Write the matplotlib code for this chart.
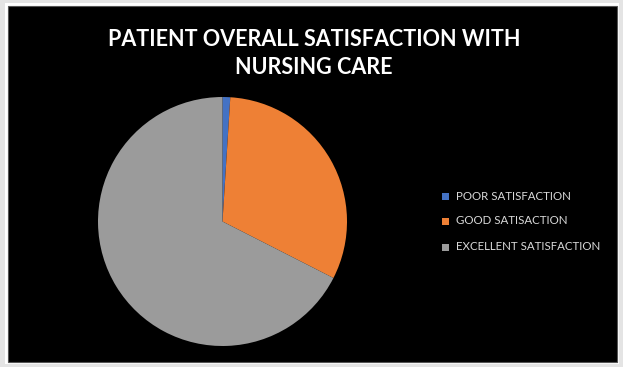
import matplotlib.pyplot as plt
from matplotlib.patches import Rectangle

# data
labels = ['POOR SATISFACTION', 'GOOD SATISACTION', 'EXCELLENT SATISFACTION']
values = [1, 31.5, 67.5]
colors = ['#4472C4', '#EE8035', '#9B9B9B']

W, H = 623, 367
fig = plt.figure(figsize=(W / 100, H / 100), dpi=100)
fig.patch.set_facecolor('#e4e4e4')

# white frame + black chart area
fig.patches.append(Rectangle((5 / W, 3 / H), 614 / W, 361 / H, transform=fig.transFigure,
                             facecolor='white', edgecolor='none', zorder=0))
fig.patches.append(Rectangle((8 / W, 5 / H), 609 / W, 356 / H, transform=fig.transFigure,
                             facecolor='black', edgecolor='#555555', linewidth=0.8, zorder=1))

# pie axes, centre (222.5, 221.5) px, radius 124.5 px
cx, cy, r = 222.5, 221.5, 124.5
ax = fig.add_axes([(cx - r) / W, (H - cy - r) / H, 2 * r / W, 2 * r / H])
ax.set_zorder(5)
ax.set_facecolor('none')
wedges, _ = ax.pie(values, colors=colors, startangle=90, counterclock=False,
                   radius=1, wedgeprops=dict(linewidth=0))
ax.set_xlim(-1, 1)
ax.set_ylim(-1, 1)
ax.axis('off')

fig.text(314 / W, 1 - 39 / H, 'PATIENT OVERALL SATISFACTION WITH', ha='center', va='center',
         color='white', fontsize=15.5, fontweight='bold', family='Lato', zorder=6)
fig.text(314 / W, 1 - 67 / H, 'NURSING CARE', ha='center', va='center',
         color='white', fontsize=15.5, fontweight='bold', family='Lato', zorder=6)

# legend
ys = [196, 221, 247]
for lab, col, y in zip(labels, colors, ys):
    fig.patches.append(Rectangle((442 / W, 1 - (y + 3.5) / H), 7 / W, 7 / H,
                                 transform=fig.transFigure, facecolor=col, edgecolor='none', zorder=3))
    fig.text(456 / W, 1 - y / H, lab, ha='left', va='center', color='#d9d9d9',
             fontsize=8.3, family='Lato', zorder=6)

plt.savefig('out.png', dpi=100, facecolor=fig.get_facecolor())
